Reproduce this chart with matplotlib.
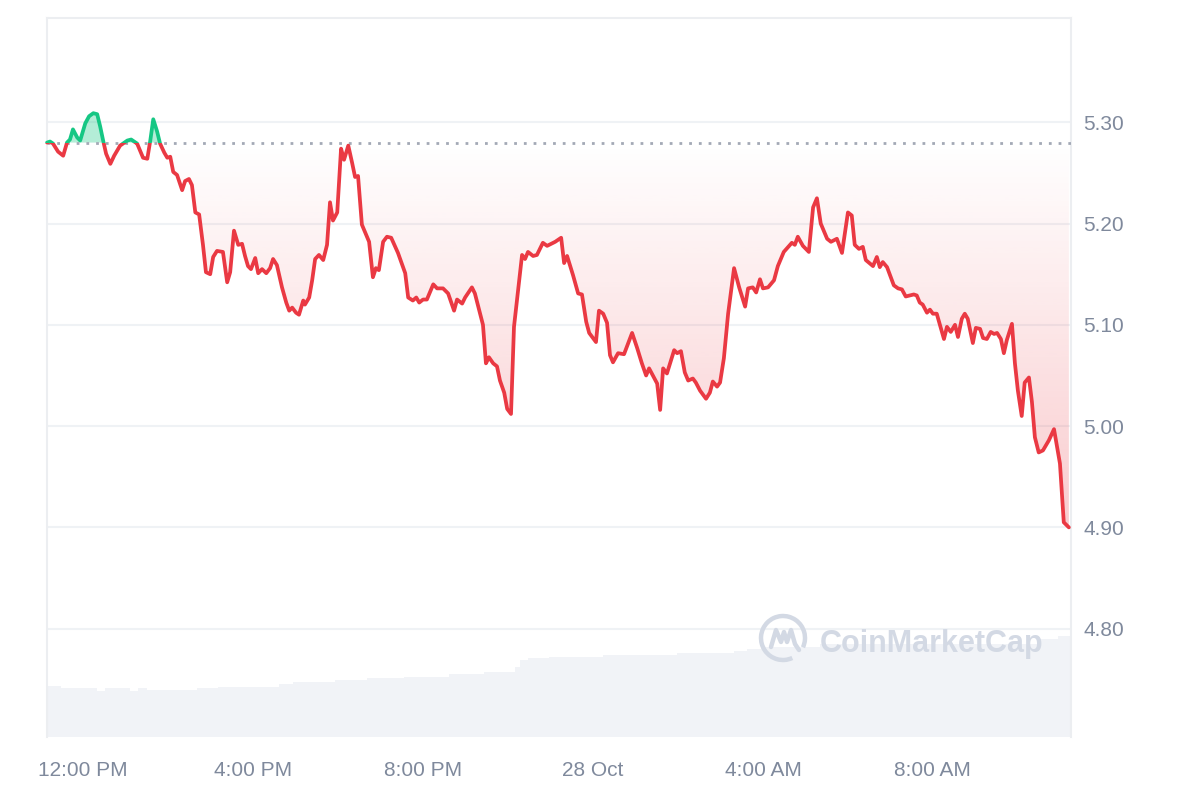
import numpy as np
import matplotlib.pyplot as plt
from matplotlib.patches import Rectangle, Arc
from matplotlib.path import Path
from matplotlib.colors import to_rgb

plt.rcParams['font.family'] = ['Liberation Sans', 'DejaVu Sans']

# time in hours relative to 27 Oct 12:00 PM
hours = [
    -0.85, -0.78, -0.71, -0.59, -0.47, -0.38, -0.31, -0.24, -0.14, -0.07,
    0.05, 0.14, 0.24, 0.33, 0.40, 0.47, 0.54, 0.64, 0.73, 0.87,
    1.04, 1.13, 1.20, 1.27, 1.34, 1.41, 1.51, 1.58, 1.65, 1.74,
    1.81, 1.91, 1.98, 2.05, 2.12, 2.21, 2.33, 2.40, 2.49, 2.56,
    2.64, 2.73, 2.82, 2.89, 2.99, 3.06, 3.15, 3.29, 3.39, 3.46,
    3.55, 3.65, 3.74, 3.81, 3.88, 3.95, 4.05, 4.12, 4.21, 4.31,
    4.40, 4.47, 4.56, 4.68, 4.78, 4.85, 4.92, 5.01, 5.08, 5.18,
    5.22, 5.32, 5.39, 5.46, 5.55, 5.65, 5.74, 5.81, 5.88, 5.98,
    6.07, 6.14, 6.24, 6.33, 6.40, 6.47, 6.56, 6.73, 6.82, 6.89,
    6.96, 7.06, 7.15, 7.25, 7.41, 7.58, 7.65, 7.76, 7.84, 7.91,
    8.00, 8.09, 8.24, 8.33, 8.47, 8.59, 8.73, 8.80, 8.92, 8.99,
    9.15, 9.22, 9.41, 9.48, 9.55, 9.65, 9.74, 9.81, 9.91, 9.98,
    10.07, 10.14, 10.33, 10.40, 10.47, 10.59, 10.68, 10.82, 10.92, 11.11,
    11.25, 11.32, 11.39, 11.53, 11.65, 11.74, 11.84, 11.91, 12.07, 12.14,
    12.24, 12.33, 12.40, 12.47, 12.59, 12.73, 12.92, 13.04, 13.15, 13.25,
    13.32, 13.41, 13.51, 13.58, 13.65, 13.74, 13.91, 13.98, 14.07, 14.16,
    14.24, 14.35, 14.42, 14.52, 14.66, 14.75, 14.82, 14.92, 14.99, 15.08,
    15.18, 15.32, 15.44, 15.58, 15.65, 15.76, 15.84, 15.93, 16.00, 16.12,
    16.26, 16.35, 16.49, 16.68, 16.75, 16.82, 16.94, 17.08, 17.18, 17.27,
    17.36, 17.51, 17.60, 17.74, 17.86, 18.00, 18.09, 18.16, 18.26, 18.35,
    18.42, 18.59, 18.68, 18.75, 18.82, 18.92, 19.08, 19.18, 19.27, 19.36,
    19.55, 19.62, 19.69, 19.76, 19.86, 19.93, 20.00, 20.09, 20.26, 20.33,
    20.42, 20.52, 20.59, 20.68, 20.75, 20.82, 20.94, 21.01, 21.11, 21.18,
    21.27, 21.36, 21.44, 21.51, 21.60, 21.67, 21.74, 21.86, 21.93, 22.00,
    22.09, 22.16, 22.26, 22.33, 22.40, 22.49, 22.59, 22.73, 22.85, 22.99,
    23.08, 23.20,
]
price = [
    5.280, 5.281, 5.279, 5.271, 5.267, 5.280, 5.283, 5.293, 5.285, 5.282,
    5.299, 5.306, 5.309, 5.308, 5.296, 5.282, 5.269, 5.259, 5.267, 5.277,
    5.282, 5.283, 5.281, 5.279, 5.272, 5.265, 5.264, 5.282, 5.303, 5.291,
    5.279, 5.270, 5.265, 5.266, 5.251, 5.248, 5.233, 5.242, 5.244, 5.238,
    5.211, 5.209, 5.179, 5.152, 5.150, 5.167, 5.173, 5.172, 5.142, 5.152,
    5.193, 5.179, 5.180, 5.168, 5.158, 5.155, 5.166, 5.151, 5.155, 5.151,
    5.156, 5.165, 5.159, 5.137, 5.122, 5.114, 5.117, 5.112, 5.110, 5.124,
    5.120, 5.127, 5.144, 5.165, 5.169, 5.164, 5.179, 5.221, 5.203, 5.211,
    5.274, 5.263, 5.277, 5.260, 5.246, 5.247, 5.199, 5.182, 5.147, 5.156,
    5.154, 5.182, 5.187, 5.186, 5.171, 5.151, 5.127, 5.124, 5.127, 5.122,
    5.125, 5.125, 5.140, 5.136, 5.136, 5.131, 5.114, 5.125, 5.121, 5.127,
    5.137, 5.131, 5.100, 5.062, 5.068, 5.062, 5.059, 5.045, 5.033, 5.017,
    5.012, 5.098, 5.169, 5.165, 5.172, 5.168, 5.169, 5.181, 5.178, 5.182,
    5.186, 5.161, 5.168, 5.149, 5.131, 5.130, 5.103, 5.092, 5.083, 5.114,
    5.111, 5.102, 5.070, 5.063, 5.072, 5.071, 5.092, 5.077, 5.062, 5.050,
    5.057, 5.050, 5.042, 5.016, 5.057, 5.052, 5.075, 5.072, 5.074, 5.053,
    5.045, 5.047, 5.043, 5.035, 5.027, 5.033, 5.044, 5.039, 5.043, 5.067,
    5.111, 5.156, 5.137, 5.118, 5.136, 5.137, 5.132, 5.145, 5.136, 5.137,
    5.144, 5.158, 5.172, 5.181, 5.179, 5.187, 5.178, 5.172, 5.216, 5.225,
    5.200, 5.185, 5.182, 5.185, 5.171, 5.211, 5.208, 5.179, 5.175, 5.177,
    5.164, 5.158, 5.167, 5.157, 5.162, 5.157, 5.139, 5.136, 5.135, 5.128,
    5.130, 5.129, 5.122, 5.120, 5.112, 5.115, 5.111, 5.111, 5.086, 5.098,
    5.093, 5.100, 5.088, 5.106, 5.111, 5.106, 5.082, 5.097, 5.096, 5.087,
    5.086, 5.093, 5.091, 5.092, 5.086, 5.072, 5.085, 5.101, 5.062, 5.035,
    5.010, 5.043, 5.048, 5.024, 4.989, 4.974, 4.976, 4.986, 4.997, 4.963,
    4.905, 4.900,
]
open_price = 5.28

# 24h volume (relative units), constant over each block
vol_edges = [-0.85, -0.52, 0.33, 0.52, 1.11, 1.29, 1.51, 2.68, 3.18, 4.61,
             4.94, 5.93, 6.68, 7.55, 8.61, 9.44, 10.16, 10.28, 10.47, 10.96,
             12.24, 13.98, 15.32, 15.62, 15.95, 17.34, 22.52, 22.94, 23.25]
vol_level = [51, 49, 46, 49, 46, 49, 47, 49, 50,
             53, 55, 57, 59, 60, 63, 65, 70, 77, 79,
             80, 82, 84, 86, 88, 90, 93, 98, 101]

x_ticks = [0, 4, 8, 12, 16, 20]
x_labels = ['12:00 PM', '4:00 PM', '8:00 PM', '28 Oct', '4:00 AM', '8:00 AM']
y_ticks = [4.80, 4.90, 5.00, 5.10, 5.20, 5.30]

RED = '#ea3943'
GREEN = '#16c784'
GRID = '#eff2f5'
TEXT = '#7f899c'
MARK = '#d3d9e4'

t = np.array(hours)
p = np.array(price)

fig = plt.figure(figsize=(12, 8), dpi=100)
ax_v = fig.add_axes([0.0392, 0.07875, 0.8533, 0.89875])
ax = ax_v.twinx()

# volume bars
ax_v.bar(vol_edges[:-1], vol_level, width=np.diff(vol_edges), align='edge',
         color='#f1f3f7', linewidth=0)
ax_v.set_ylim(0, max(vol_level) / 0.1405)
ax_v.set_yticks([])
for s in ax_v.spines.values():
    s.set_visible(False)
ax_v.set_xticks(x_ticks)
ax_v.set_xticklabels(x_labels)
ax_v.tick_params(axis='x', length=0, pad=17, labelsize=15, labelcolor=TEXT)

# price axis
ax.set_yticks(y_ticks)
ax.set_yticklabels([f'{v:.2f}' for v in y_ticks])
ax.tick_params(axis='y', length=0, pad=9, labelsize=15, labelcolor=TEXT)
ax.grid(axis='y', color=GRID, linewidth=1.5, zorder=0)
ax.set_axisbelow(True)
for side in ['top', 'left', 'right']:
    ax.spines[side].set_color('#eceef1')
    ax.spines[side].set_linewidth(1.5)
ax.spines['bottom'].set_visible(False)

# green area above open
ax.fill_between(t, p, open_price, where=p >= open_price, interpolate=True,
                color=GREEN, alpha=0.32, linewidth=0, zorder=2)

# red gradient area below open
red_fill = ax.fill_between(t, p, open_price, where=p <= open_price,
                           interpolate=True, color='none', linewidth=0)
clip = Path.make_compound_path(*red_fill.get_paths())
grad = np.zeros((256, 1, 4))
grad[..., :3] = to_rgb(RED)
grad[..., 3] = np.linspace(0.26, 0.0, 256)[:, None]
im = ax.imshow(grad, extent=[t[0], t[-1], p.min(), open_price], origin='lower',
               aspect='auto', interpolation='bilinear', zorder=2)
im.set_clip_path(clip, ax.transData)
ax.set_xlim(-0.85, 23.25)
ax.set_ylim(4.693, 5.403)

# dotted open line
ax.axhline(open_price, color='#a3a9b6', linewidth=2, linestyle=(0, (1, 2.5)),
           zorder=3)

# price line, red below open and green above
for color, rect in [(RED, Rectangle((-100, 0), 1000, open_price)),
                    (GREEN, Rectangle((-100, open_price), 1000, 100))]:
    line, = ax.plot(t, p, color=color, linewidth=2.7, solid_joinstyle='round',
                    solid_capstyle='round', zorder=4)
    rect.set_transform(ax.transData)
    line.set_clip_path(rect)

# watermark
fig.text(0.6835, 0.195, 'CoinMarketCap', fontsize=22, fontweight='bold',
         color=MARK, va='center', ha='left')
logo = fig.add_axes([0.6275, 0.165, 0.05, 0.075])
logo.set_xlim(-30, 30)
logo.set_ylim(-30, 30)
logo.set_aspect('equal')
logo.axis('off')
logo.add_patch(Arc((0, 0), 44, 44, theta1=-25, theta2=295, color=MARK, lw=3.2))
logo.plot([-12, -7, -2, 1, 4, 8, 12, 16], [-9, 8, -4, 6, -4, 8, -6, -12],
          color=MARK, lw=3.2, solid_joinstyle='round', solid_capstyle='round')

fig.savefig('out.png', dpi=100)
